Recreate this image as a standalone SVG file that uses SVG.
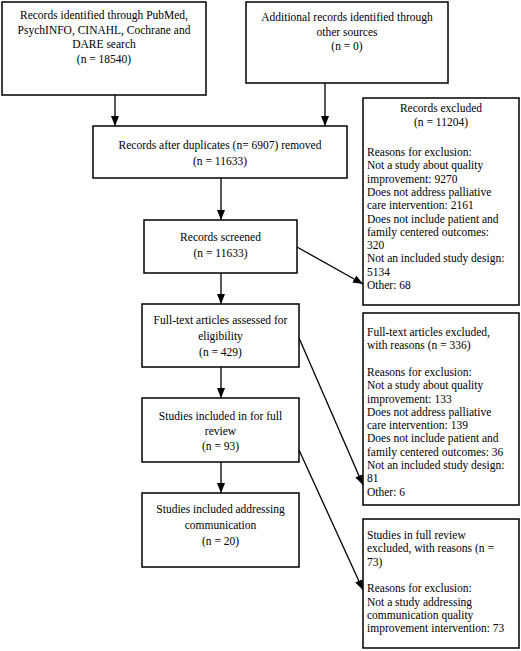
<svg xmlns="http://www.w3.org/2000/svg" width="521" height="651" viewBox="0 0 521 651">
<defs>
<style>
.box{fill:#fff;stroke:#000;stroke-width:1.5}
text{font-family:"Liberation Serif","Times New Roman",serif;font-size:11.5px;fill:#000}
.c{text-anchor:middle}
.conn line{stroke:#000;stroke-width:1.3;marker-end:url(#ah)}
</style>
<marker id="ah" markerUnits="userSpaceOnUse" markerWidth="10" markerHeight="10" viewBox="0 0 10 10" refX="10" refY="5" orient="auto">
<path d="M0,1 L10,5 L0,9 Z" fill="#000"/>
</marker>
</defs>
<rect width="521" height="651" fill="#fff"/>
<g id="n1">
<rect class="box" x="2" y="2" width="204" height="93"/>
<text class="c" x="104" y="19">Records identified through PubMed,</text>
<text class="c" x="104" y="33.5">PsychINFO, CINAHL, Cochrane and</text>
<text class="c" x="104" y="48">DARE search</text>
<text class="c" x="104" y="62.5">(n = 18540)</text>
</g>
<g id="n2">
<rect class="box" x="246" y="2" width="202" height="81"/>
<text class="c" x="347" y="21">Additional records identified through</text>
<text class="c" x="347" y="35.5">other sources</text>
<text class="c" x="347" y="50">(n = 0)</text>
</g>
<g id="n3">
<rect class="box" x="93" y="126" width="254" height="52"/>
<text class="c" x="220" y="149">Records after duplicates (n= 6907) removed</text>
<text class="c" x="220" y="165">(n = 11633)</text>
</g>
<g id="n4">
<rect class="box" x="144" y="220" width="153" height="53"/>
<text class="c" x="220.5" y="241">Records screened</text>
<text class="c" x="220.5" y="257">(n = 11633)</text>
</g>
<g id="n5">
<rect class="box" x="142" y="304" width="157" height="63"/>
<text class="c" x="220.5" y="324">Full-text articles assessed for</text>
<text class="c" x="220.5" y="340">eligibility</text>
<text class="c" x="220.5" y="356">(n = 429)</text>
</g>
<g id="n6">
<rect class="box" x="142" y="398" width="157" height="64"/>
<text class="c" x="220.5" y="420">Studies included in for full</text>
<text class="c" x="220.5" y="435">review</text>
<text class="c" x="220.5" y="450">(n = 93)</text>
</g>
<g id="n7">
<rect class="box" x="142" y="493" width="157" height="74"/>
<text class="c" x="220.5" y="513">Studies included addressing</text>
<text class="c" x="220.5" y="529">communication</text>
<text class="c" x="220.5" y="545">(n = 20)</text>
</g>
<g id="nA">
<rect class="box" x="363" y="98" width="156" height="207"/>
<text class="c" x="441" y="112">Records excluded</text>
<text class="c" x="441" y="126">(n = 11204)</text>
<text x="367" y="156">Reasons for exclusion:</text>
<text x="367" y="169.3">Not a study about quality</text>
<text x="367" y="182.6">improvement: 9270</text>
<text x="367" y="195.9">Does not address palliative</text>
<text x="367" y="209.2">care intervention: 2161</text>
<text x="367" y="222.5">Does not include patient and</text>
<text x="367" y="235.8">family centered outcomes:</text>
<text x="367" y="249.1">320</text>
<text x="367" y="262.4">Not an included study design:</text>
<text x="367" y="275.7">5134</text>
<text x="367" y="289">Other: 68</text>
</g>
<g id="nB">
<rect class="box" x="363" y="313" width="156" height="192"/>
<text x="367" y="336">Full-text articles excluded,</text>
<text x="367" y="349.3">with reasons (n = 336)</text>
<text x="367" y="375.9">Reasons for exclusion:</text>
<text x="367" y="389.2">Not a study about quality</text>
<text x="367" y="402.5">improvement: 133</text>
<text x="367" y="415.8">Does not address palliative</text>
<text x="367" y="429.1">care intervention: 139</text>
<text x="367" y="442.4">Does not include patient and</text>
<text x="367" y="455.7">family centered outcomes: 36</text>
<text x="367" y="469">Not an included study design:</text>
<text x="367" y="482.3">81</text>
<text x="367" y="495.6">Other: 6</text>
</g>
<g id="nC">
<rect class="box" x="363" y="519" width="156" height="129"/>
<text x="367" y="539">Studies in full review</text>
<text x="367" y="552.3">excluded, with reasons (n =</text>
<text x="367" y="565.6">73)</text>
<text x="367" y="592.2">Reasons for exclusion:</text>
<text x="367" y="605.5">Not a study addressing</text>
<text x="367" y="618.8">communication quality</text>
<text x="367" y="632.1">improvement intervention: 73</text>
</g>
<g class="conn">
<line x1="115" y1="95" x2="115" y2="126"/>
<line x1="325" y1="83" x2="325" y2="126"/>
<line x1="221" y1="178" x2="221" y2="220"/>
<line x1="221" y1="273" x2="221" y2="304"/>
<line x1="221" y1="367" x2="221" y2="398"/>
<line x1="221" y1="462" x2="221" y2="493"/>
<line x1="297" y1="247" x2="363" y2="284"/>
<line x1="299" y1="338" x2="363" y2="485"/>
<line x1="299" y1="450" x2="363" y2="590"/>
</g>
</svg>
